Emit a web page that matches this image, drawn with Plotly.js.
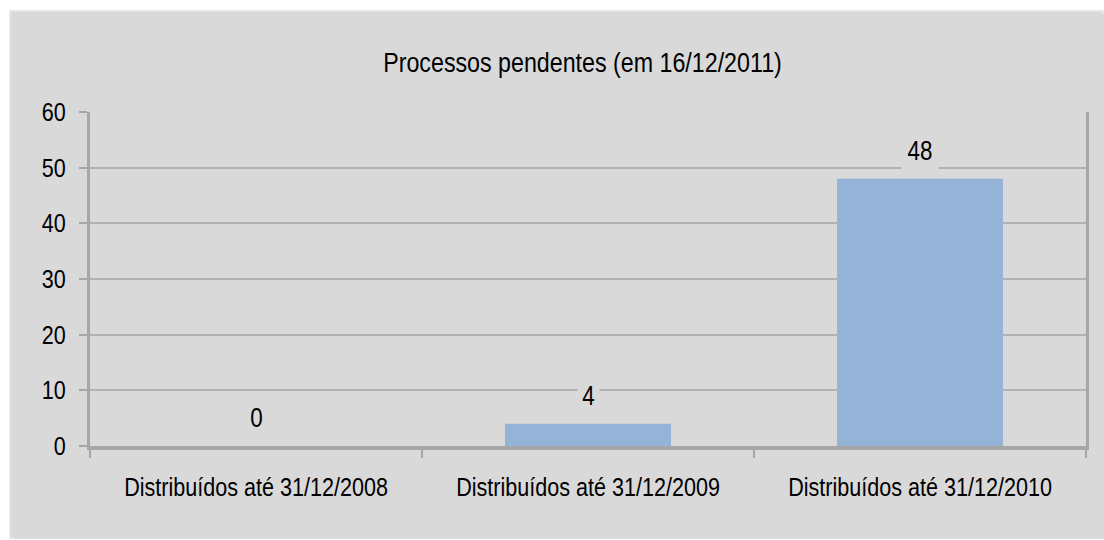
<!DOCTYPE html>
<html>
<head>
<meta charset="utf-8">
<script src="https://cdn.plot.ly/plotly-3.0.1.min.js"></script>
<style>
  html, body { margin: 0; padding: 0; background: #ffffff; width: 1104px; height: 540px; overflow: hidden; }
  #frame { position: absolute; left: 9px; top: 10px; width: 1095px; height: 529px; box-sizing: border-box; border: 2px solid #e6e6e6; background: #d9d9d9; }
  #chart { position: absolute; left: 2px; top: 2px; width: 1091px; height: 525px; }
</style>
</head>
<body>
<div id="frame"><div id="chart"></div></div>
<script>
const categories = ["Distribuídos até 31/12/2008", "Distribuídos até 31/12/2009", "Distribuídos até 31/12/2010"];
const values = [0, 4, 48];
const valueLabels = ["0", "4", "48"];
const yTicks = [0, 10, 20, 30, 40, 50, 60];
const chartTitle = "Processos pendentes (em 16/12/2011)";

const FONT = "'Liberation Sans Narrow', 'Arial Narrow', 'Liberation Sans', Arial, sans-serif";
const NARROW = 0.83;
const PANEL = "#d9d9d9";
const AXIS = "#a6a6a6";
const GRID = "#b2b2b2";

const trace = {
  type: "bar",
  x: categories,
  y: values,
  marker: { color: "#95b3d7", line: { width: 0 } },
  hoverinfo: "x+y"
};

const annotations = categories.map((c, i) => ({
  x: c,
  y: values[i],
  xref: "x",
  yref: "y",
  text: valueLabels[i],
  showarrow: false,
  yanchor: "bottom",
  yshift: 9,
  bgcolor: PANEL,
  borderpad: 3,
  font: { family: FONT, size: 27, color: "#000000" }
}));

const layout = {
  width: 1091,
  height: 525,
  paper_bgcolor: PANEL,
  plot_bgcolor: PANEL,
  margin: { l: 77, r: 18, t: 98, b: 93 },
  showlegend: false,
  bargap: 0.5,
  title: {
    text: chartTitle,
    font: { family: FONT, size: 28, color: "#000000" },
    x: 0.522, xref: "container", xanchor: "center",
    y: 0.908, yref: "container", yanchor: "middle"
  },
  xaxis: {
    type: "category",
    showgrid: false,
    showline: true,
    linecolor: AXIS,
    linewidth: 4,
    ticks: "outside",
    tickson: "boundaries",
    ticklen: 8,
    tickwidth: 2,
    tickcolor: AXIS,
    ticklabelstandoff: 15,
    tickfont: { family: FONT, size: 26, color: "#000000" },
    zeroline: false
  },
  yaxis: {
    range: [0, 60],
    tickvals: yTicks,
    ticktext: yTicks.map(String),
    showgrid: true,
    gridcolor: GRID,
    gridwidth: 2,
    showline: true,
    mirror: true,
    linecolor: AXIS,
    linewidth: 3,
    ticks: "outside",
    ticklen: 8,
    tickwidth: 2,
    tickcolor: AXIS,
    ticklabelstandoff: 8,
    tickfont: { family: FONT, size: 26, color: "#000000" },
    zeroline: false
  },
  annotations: annotations
};

function narrowText() {
  // emulate a condensed (Arial Narrow-like) face by squeezing each text horizontally around its anchor
  document.querySelectorAll("#chart svg text").forEach(t => {
    if (t.dataset.narrowed) return;
    const x = parseFloat(t.getAttribute("x") || "0");
    const y = parseFloat(t.getAttribute("y") || "0");
    const prev = t.getAttribute("transform") || "";
    t.setAttribute("transform", prev + " translate(" + x + "," + y + ") scale(" + NARROW + ",1) translate(" + (-x) + "," + (-y) + ")");
    t.dataset.narrowed = "1";
  });
}

Plotly.newPlot("chart", [trace], layout, { displayModeBar: false, staticPlot: true }).then(narrowText);
</script>
</body>
</html>
